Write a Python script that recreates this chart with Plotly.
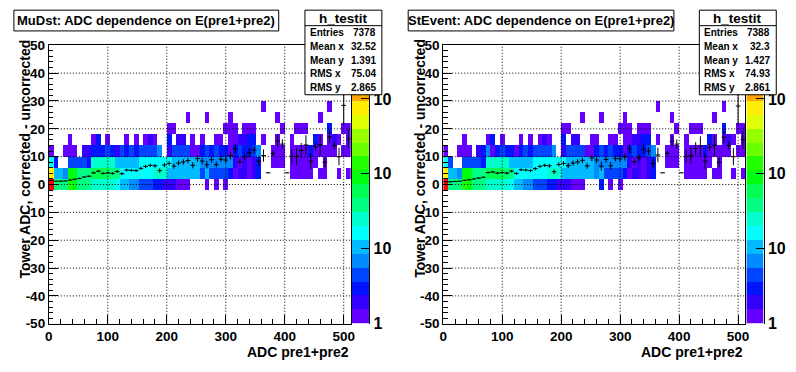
import numpy as np
import plotly.graph_objects as go

W, H = 796, 372
FONT = "Liberation Sans, Arial, Helvetica, sans-serif"

# ---------------- data ----------------
x_min, x_max, n_xbins = 0.0, 512.0, 64
y_min, y_max = -50, 50
y_row_centers = [0, 4, 8, 12, 16, 20, 24, 28]
x_ticks = [0, 100, 200, 300, 400, 500]
y_ticks = [-50, -40, -30, -20, -10, 0, 10, 20, 30, 40, 50]
count_min, count_max = 1, 5200
cbar_tickvals = [1, 10, 100, 1000]
cbar_ticktext = ["1", "10", "10", "10"]
n_palette_levels = 20

panel_titles = ["MuDst: ADC dependence on E(pre1+pre2)",
                "StEvent: ADC dependence on E(pre1+pre2)"]
x_title = "ADC pre1+pre2"
y_title = "Tower ADC, corrected - uncorrected"
stats_name = "h_testit"
stats_labels = ["Entries", "Mean x", "Mean y", "RMS x", "RMS y"]
mudst_stats = ["7378", "32.52", "1.391", "75.04", "2.865"]
stevent_stats = ["7388", "32.3", "1.427", "74.93", "2.861"]

mudst_counts = [
    [4000, 38, 40, 44, 120, 105, 42, 40, 36, 28, 25, 24, 22, 20, 16, 12, 11, 8, 7, 5, 4, 4, 3, 3, 2, 2, 2, 1, 1, 1, 0, 0,
     0, 1, 0, 1, 0, 1, 0, 0, 0, 0, 0, 0, 0, 0, 0, 0, 0, 0, 0, 0, 0, 0, 0, 0, 0, 0, 0, 0, 0, 0, 0, 0],
    [700, 10, 10, 7, 95, 90, 40, 38, 35, 60, 65, 55, 50, 38, 35, 18, 17, 16, 15, 16, 17, 15, 22, 21, 20, 11, 10, 10, 11, 10, 9, 9,
     5, 10, 5, 5, 4, 4, 3, 1, 2, 2, 1, 2, 3, 0, 0, 0, 0, 0, 0, 1, 1, 1, 1, 1, 0, 1, 1, 0, 0, 1, 0, 1],
    [15, 3, 0, 0, 4, 4, 5, 4, 3, 25, 26, 24, 22, 20, 11, 13, 12, 13, 12, 16, 17, 15, 16, 15, 14, 14, 13, 10, 9, 10, 9, 9,
     7, 6, 7, 6, 6, 7, 6, 2, 1, 2, 1, 2, 3, 0, 0, 1, 1, 1, 0, 1, 1, 1, 1, 1, 1, 0, 1, 0, 0, 0, 0, 0],
    [1, 0, 0, 1, 1, 1, 0, 2, 2, 3, 3, 3, 4, 3, 2, 4, 3, 4, 3, 4, 5, 5, 5, 7, 0, 2, 5, 5, 4, 5, 1, 1,
     3, 4, 3, 4, 3, 3, 1, 3, 4, 3, 3, 4, 6, 0, 0, 1, 1, 1, 0, 1, 1, 1, 1, 3, 1, 1, 1, 1, 1, 0, 1, 1],
    [0, 0, 0, 0, 1, 0, 0, 0, 0, 1, 3, 0, 1, 0, 0, 0, 1, 0, 1, 0, 1, 2, 1, 0, 0, 3, 0, 2, 2, 0, 1, 0,
     1, 0, 0, 1, 1, 0, 1, 1, 2, 2, 3, 3, 0, 1, 0, 0, 1, 0, 0, 1, 0, 0, 0, 0, 3, 1, 0, 1, 2, 1, 0, 1],
    [0, 0, 0, 0, 0, 0, 0, 0, 0, 0, 0, 0, 0, 0, 0, 0, 0, 0, 0, 0, 0, 0, 0, 0, 0, 1, 1, 0, 0, 0, 0, 0,
     0, 0, 0, 0, 0, 1, 1, 1, 0, 1, 1, 1, 0, 0, 0, 0, 0, 1, 0, 0, 1, 1, 1, 0, 0, 0, 0, 3, 0, 0, 1, 1],
    [0, 0, 0, 0, 0, 0, 0, 0, 0, 0, 0, 0, 0, 0, 0, 0, 0, 0, 0, 0, 0, 0, 0, 0, 0, 0, 0, 0, 0, 1, 0, 0,
     0, 1, 0, 0, 0, 0, 1, 0, 0, 0, 0, 0, 0, 0, 0, 0, 1, 0, 0, 0, 0, 0, 0, 0, 0, 1, 0, 0, 0, 0, 0, 0],
    [0, 0, 0, 0, 0, 0, 0, 0, 0, 0, 0, 0, 0, 0, 0, 0, 0, 0, 0, 0, 0, 0, 0, 0, 0, 0, 0, 0, 0, 0, 0, 0,
     0, 0, 0, 0, 0, 0, 0, 0, 0, 0, 0, 0, 0, 1, 0, 0, 0, 0, 0, 0, 0, 0, 0, 0, 0, 0, 0, 1, 0, 0, 0, 0],
]

stevent_counts = [
    [4100, 38, 40, 44, 120, 105, 42, 40, 36, 28, 25, 24, 22, 20, 16, 12, 11, 8, 7, 5, 4, 4, 3, 3, 2, 2, 2, 1, 1, 1, 0, 0,
     0, 3, 0, 1, 0, 1, 0, 0, 0, 0, 0, 0, 0, 0, 0, 0, 0, 0, 0, 0, 0, 0, 0, 0, 0, 0, 0, 0, 0, 0, 0, 0],
    [720, 10, 10, 7, 95, 90, 40, 38, 35, 60, 65, 55, 50, 38, 35, 18, 17, 16, 15, 16, 17, 15, 22, 21, 20, 11, 10, 10, 11, 10, 9, 9,
     6, 10, 5, 5, 4, 4, 3, 1, 2, 2, 1, 2, 3, 0, 0, 0, 0, 0, 0, 1, 1, 1, 1, 1, 0, 1, 1, 0, 0, 1, 0, 1],
    [15, 4, 0, 0, 4, 4, 5, 4, 3, 25, 26, 24, 22, 20, 11, 13, 12, 13, 12, 16, 17, 15, 16, 15, 14, 14, 13, 10, 9, 10, 9, 9,
     7, 6, 7, 6, 6, 7, 6, 2, 1, 2, 1, 2, 3, 0, 0, 1, 1, 1, 0, 1, 1, 1, 1, 1, 1, 0, 1, 0, 0, 0, 0, 0],
    [1, 0, 0, 1, 1, 1, 0, 2, 3, 7, 1, 3, 4, 3, 3, 1, 3, 4, 3, 4, 5, 5, 5, 7, 0, 2, 5, 5, 4, 5, 1, 1,
     3, 4, 3, 4, 3, 3, 1, 3, 4, 3, 3, 4, 6, 0, 0, 1, 1, 1, 0, 1, 1, 1, 1, 3, 1, 1, 1, 1, 1, 0, 1, 1],
    [0, 0, 0, 0, 1, 0, 0, 0, 0, 1, 3, 0, 1, 0, 0, 0, 1, 0, 1, 0, 1, 2, 1, 0, 0, 3, 0, 2, 2, 0, 0, 1,
     1, 0, 0, 1, 1, 0, 1, 1, 2, 2, 3, 3, 0, 1, 0, 0, 1, 0, 0, 1, 0, 0, 0, 0, 3, 1, 0, 1, 2, 1, 0, 1],
    [0, 0, 0, 0, 0, 0, 0, 0, 0, 0, 0, 0, 0, 0, 0, 0, 0, 0, 0, 0, 0, 0, 0, 0, 0, 1, 1, 0, 0, 0, 0, 0,
     0, 0, 0, 0, 0, 1, 1, 1, 0, 1, 1, 1, 0, 0, 0, 0, 0, 1, 0, 0, 1, 1, 1, 0, 0, 0, 0, 3, 0, 0, 1, 1],
    [0, 0, 0, 0, 0, 0, 0, 0, 0, 0, 0, 0, 0, 0, 0, 0, 0, 0, 0, 0, 0, 0, 0, 0, 0, 0, 0, 0, 0, 1, 0, 0,
     0, 1, 0, 0, 0, 0, 1, 0, 0, 0, 0, 0, 0, 0, 0, 0, 1, 0, 0, 0, 0, 0, 0, 0, 0, 1, 0, 0, 0, 0, 0, 0],
    [0, 0, 0, 0, 0, 0, 0, 0, 0, 0, 0, 0, 0, 0, 0, 0, 0, 0, 0, 0, 0, 0, 0, 0, 0, 0, 0, 0, 0, 0, 0, 0,
     0, 0, 0, 0, 0, 0, 0, 0, 0, 0, 0, 0, 0, 1, 0, 0, 0, 0, 0, 0, 0, 0, 0, 0, 0, 0, 0, 1, 0, 0, 0, 0],
]

mudst_prof_mean = [1.5, 1.2, 1.2, 1.3, 1.6, 1.9, 2.2, 2.7, 3.0, 4.2, 4.8, 4.0, 4.2, 4.0, 4.7, 3.9,
                   5.2, 5.1, 5.0, 5.8, 6.5, 6.9, 6.7, 5.0, 7.0, 7.6, 6.6, 7.7, 8.1, 8.6, 6.9, 9.3,
                   8.4, 7.1, 8.9, 7.1, 9.1, 8.8, 10.4, 12.8, 8.2, 9.9, 11.4, 12.4, 8.4, 10.4, 4.2, 11.2,
                   15.6, 14.5, 4.2, 10.2, 10.1, 12.2, 14.2, 8.4, 13.6, 14.2, 8.0, 17.1, 14.0, 10.0, 28.4, 16.4]
mudst_prof_err = [0.15, 0.2, 0.2, 0.2, 0.2, 0.25, 0.25, 0.3, 0.3, 0.4, 0.4, 0.4, 0.4, 0.45, 0.5, 0.5,
                  0.5, 0.5, 0.55, 0.6, 0.6, 0.6, 0.7, 0.8, 0.8, 0.8, 0.9, 0.9, 1.0, 1.0, 1.1, 1.1,
                  1.1, 1.4, 1.1, 1.1, 1.0, 1.1, 1.4, 1.7, 1.0, 1.2, 1.7, 1.4, 1.7, 2.2, 0.0, 1.0,
                  2.3, 1.7, 0.0, 2.6, 3.0, 2.7, 3.5, 2.8, 1.4, 3.7, 1.7, 2.2, 1.4, 3.1, 7.1, 3.4]
stevent_prof_mean = [1.0, 1.0, 1.1, 1.2, 1.5, 1.7, 2.0, 2.3, 2.6, 4.3, 4.5, 4.1, 4.3, 4.1, 4.8, 4.0,
                     5.3, 5.2, 5.0, 5.7, 6.5, 6.9, 6.7, 4.6, 7.2, 7.6, 6.8, 7.7, 8.1, 8.7, 6.7, 9.5,
                     8.8, 6.6, 9.0, 6.7, 9.3, 9.2, 9.9, 12.8, 8.2, 9.6, 12.7, 12.0, 7.6, 10.6, 4.2, 11.2,
                     15.5, 14.5, 4.2, 10.1, 10.4, 12.9, 13.8, 8.4, 13.4, 14.1, 7.9, 17.0, 13.9, 10.0, 28.2, 16.2]
stevent_prof_err = [0.15, 0.2, 0.2, 0.2, 0.2, 0.25, 0.25, 0.3, 0.3, 0.4, 0.4, 0.4, 0.4, 0.45, 0.5, 0.5,
                    0.5, 0.5, 0.55, 0.6, 0.6, 0.6, 0.7, 0.8, 0.8, 0.8, 0.9, 0.9, 1.0, 1.0, 1.1, 1.1,
                    1.1, 1.6, 1.1, 1.4, 1.0, 1.1, 1.3, 1.5, 1.2, 1.2, 1.7, 1.4, 1.6, 2.6, 0.0, 0.8,
                    2.0, 1.7, 0.0, 2.3, 3.0, 2.3, 3.5, 2.8, 1.4, 3.7, 1.7, 2.2, 1.4, 3.1, 7.0, 3.3]

# ---------------- palette (ROOT "pretty" palette, 20 contour levels) ----------------
def _root_hls(h):
    if h > 360:
        h -= 360
    if h < 0:
        h += 360
    if h < 60:
        return h / 60.0
    if h < 180:
        return 1.0
    if h < 240:
        return (240.0 - h) / 60.0
    return 0.0


def root_palette():
    cols = []
    for i in range(49):
        hue = 280.0 - (i + 1) * (280.0 / 50)
        r, g, b = _root_hls(hue + 120), _root_hls(hue), _root_hls(hue - 120)
        cols.append("rgb(%d,%d,%d)" % (round(r * 255), round(g * 255), round(b * 255)))
    cols.append("rgb(255,0,0)")
    return cols


pal = root_palette()
band_cols = [pal[int((k + 0.99) * len(pal) / n_palette_levels)] for k in range(n_palette_levels)]
colorscale = []
for k, c in enumerate(band_cols):
    colorscale.append([k / n_palette_levels, c])
    colorscale.append([(k + 1) / n_palette_levels, c])

zlo, zhi = np.log10(count_min), np.log10(count_max)

# ---------------- geometry (pixels) ----------------
def px_x(x):
    return x / W


def px_y(y):
    return 1.0 - y / H


panel_dx = [0.0, 398.4]
FRAME_L, FRAME_R, FRAME_T, FRAME_B = 45.3, 350.3, 40.0, 331.0
CB_L, CB_R = 351.5, 369.0
title_boxes = [(10.0, 277.5), (408.3, 676.7)]
TITLE_T, TITLE_B = 3.3, 25.0
STATS_L, STATS_R, STATS_T, STATS_B, STATS_SEP = 304.0, 381.7, 3.3, 91.7, 19.5

bw = (x_max - x_min) / n_xbins
x_centers = x_min + (np.arange(n_xbins) + 0.5) * bw

fig = go.Figure()
shapes, annotations = [], []
layout_axes = {}

panels = [(mudst_counts, mudst_prof_mean, mudst_prof_err, mudst_stats),
          (stevent_counts, stevent_prof_mean, stevent_prof_err, stevent_stats)]

tickfont = dict(family=FONT, size=13.5, color="black", weight="bold")

for p, (counts, pmean, perr, stats) in enumerate(panels):
    dx = panel_dx[p]
    xa, ya = "x%d" % (2 * p + 1), "y%d" % (2 * p + 1)
    xc, yc = "x%d" % (2 * p + 2), "y%d" % (2 * p + 2)
    # main 2D histogram
    c = np.array(counts, dtype=float)
    z = np.where(c > 0, np.log10(np.where(c > 0, c, 1)), np.nan)
    z = [[(None if np.isnan(v) else float(v)) for v in row] for row in z]
    fig.add_trace(go.Heatmap(x=x_centers, y=y_row_centers, z=z, colorscale=colorscale,
                             zmin=zlo, zmax=zhi, showscale=False, hoverinfo="skip",
                             xaxis=xa, yaxis=ya))
    # profile
    fig.add_trace(go.Scatter(x=x_centers, y=pmean, mode="markers",
                             marker=dict(size=1, color="black"),
                             error_x=dict(type="constant", value=bw / 2, width=0, thickness=1, color="black"),
                             error_y=dict(type="data", array=perr, width=0, thickness=1, color="black"),
                             xaxis=xa, yaxis=ya, hoverinfo="skip", showlegend=False))
    # palette axis drawn as a one-column heatmap of the colour levels
    lev_edges = np.linspace(zlo, zhi, n_palette_levels + 1)
    lev_c = (lev_edges[:-1] + lev_edges[1:]) / 2
    fig.add_trace(go.Heatmap(x=[0], y=lev_c, z=[[v] for v in lev_c], colorscale=colorscale,
                             zmin=zlo, zmax=zhi, showscale=False, hoverinfo="skip",
                             xaxis=xc, yaxis=yc))

    axcommon = dict(showgrid=False, zeroline=False, showline=True, mirror=True, linecolor="black",
                    linewidth=1, ticks="inside", ticklen=9, tickwidth=1, tickcolor="black",
                    tickfont=tickfont, tickmode="array", fixedrange=True)
    layout_axes["xaxis%d" % (2 * p + 1)] = dict(
        axcommon, domain=[px_x(FRAME_L + dx), px_x(FRAME_R + dx)], range=[x_min, x_max],
        anchor=ya, tickvals=x_ticks, ticktext=[str(v) for v in x_ticks],
        minor=dict(tickmode="linear", tick0=0, dtick=20, ticks="inside", ticklen=4.5,
                   tickcolor="black", showgrid=False))
    layout_axes["yaxis%d" % (2 * p + 1)] = dict(
        axcommon, domain=[px_y(FRAME_B), px_y(FRAME_T)], range=[y_min, y_max],
        anchor=xa, tickvals=y_ticks, ticktext=[str(v) for v in y_ticks],
        minor=dict(tickmode="linear", tick0=0, dtick=2, ticks="inside", ticklen=4.5,
                   tickcolor="black", showgrid=False))
    layout_axes["xaxis%d" % (2 * p + 2)] = dict(
        domain=[px_x(CB_L + dx), px_x(CB_R + dx)], range=[-0.5, 0.5], anchor=yc,
        visible=False, fixedrange=True)
    layout_axes["yaxis%d" % (2 * p + 2)] = dict(
        domain=[px_y(FRAME_B), px_y(FRAME_T)], range=[zlo, zhi], anchor=xc, side="right",
        showgrid=False, zeroline=False, showline=True, linecolor="black", linewidth=1,
        ticks="inside", ticklen=8, tickcolor="black", tickmode="array",
        tickvals=list(np.log10(cbar_tickvals)), ticktext=cbar_ticktext,
        tickfont=dict(family=FONT, size=16, color="black", weight="bold"), fixedrange=True)

    # dotted grid at the major ticks (drawn above the cells)
    for xv in x_ticks[1:]:
        shapes.append(dict(type="line", xref=xa, yref=ya, x0=xv, x1=xv, y0=y_min, y1=y_max,
                           line=dict(color="black", width=1, dash="1px,2px"), layer="above"))
    for yv in y_ticks[1:-1]:
        shapes.append(dict(type="line", xref=xa, yref=ya, x0=x_min, x1=x_max, y0=yv, y1=yv,
                           line=dict(color="black", width=1, dash="1px,2px"), layer="above"))

    # title box
    tl, tr = title_boxes[p]
    shapes.append(dict(type="rect", xref="paper", yref="paper", x0=px_x(tl), x1=px_x(tr),
                       y0=px_y(TITLE_B), y1=px_y(TITLE_T), fillcolor="white",
                       line=dict(color="black", width=1), layer="above"))
    annotations.append(dict(text=panel_titles[p], x=px_x((tl + tr) / 2), y=px_y((TITLE_T + TITLE_B) / 2),
                            xref="paper", yref="paper", xanchor="center", yanchor="middle",
                            showarrow=False, font=dict(family=FONT, size=13, color="black", weight="bold")))
    # stats box
    shapes.append(dict(type="rect", xref="paper", yref="paper", x0=px_x(STATS_L + dx), x1=px_x(STATS_R + dx),
                       y0=px_y(STATS_B), y1=px_y(STATS_T), fillcolor="white",
                       line=dict(color="black", width=1), layer="above"))
    shapes.append(dict(type="line", xref="paper", yref="paper", x0=px_x(STATS_L + dx), x1=px_x(STATS_R + dx),
                       y0=px_y(STATS_SEP), y1=px_y(STATS_SEP), line=dict(color="black", width=1),
                       layer="above"))
    annotations.append(dict(text=stats_name, x=px_x((STATS_L + STATS_R) / 2 + dx), y=px_y(11.5),
                            xref="paper", yref="paper", xanchor="center", yanchor="middle",
                            showarrow=False, font=dict(family=FONT, size=13.5, color="black", weight="bold")))
    for i, (lab, val) in enumerate(zip(stats_labels, stats)):
        yy = px_y(26.8 + 14.4 * i)
        annotations.append(dict(text=lab, x=px_x(STATS_L + 3 + dx), y=yy, xref="paper", yref="paper",
                                xanchor="left", yanchor="middle", showarrow=False,
                                font=dict(family=FONT, size=10, color="black", weight="bold")))
        annotations.append(dict(text=val, x=px_x(STATS_R - 4 + dx), y=yy, xref="paper", yref="paper",
                                xanchor="right", yanchor="middle", showarrow=False,
                                font=dict(family=FONT, size=10, color="black", weight="bold")))
    # axis titles
    annotations.append(dict(text=x_title, x=px_x(FRAME_R + dx), y=px_y(361), xref="paper", yref="paper",
                            xanchor="right", yanchor="middle", showarrow=False,
                            font=dict(family=FONT, size=14, color="black", weight="bold")))
    annotations.append(dict(text=y_title, x=px_x(21 + dx), y=px_y(158.5), xref="paper", yref="paper",
                            xanchor="center", yanchor="middle", textangle=-90, showarrow=False,
                            font=dict(family=FONT, size=14, color="black", weight="bold")))

fig.update_layout(width=W, height=H, margin=dict(l=0, r=0, t=0, b=0),
                  paper_bgcolor="white", plot_bgcolor="white", showlegend=False,
                  shapes=shapes, annotations=annotations, **layout_axes)
fig.write_html("out.html", config={"displayModeBar": False, "staticPlot": True},
               post_script="document.body.style.margin='0';document.body.style.padding='0';"
                           "document.body.style.overflow='hidden';")
